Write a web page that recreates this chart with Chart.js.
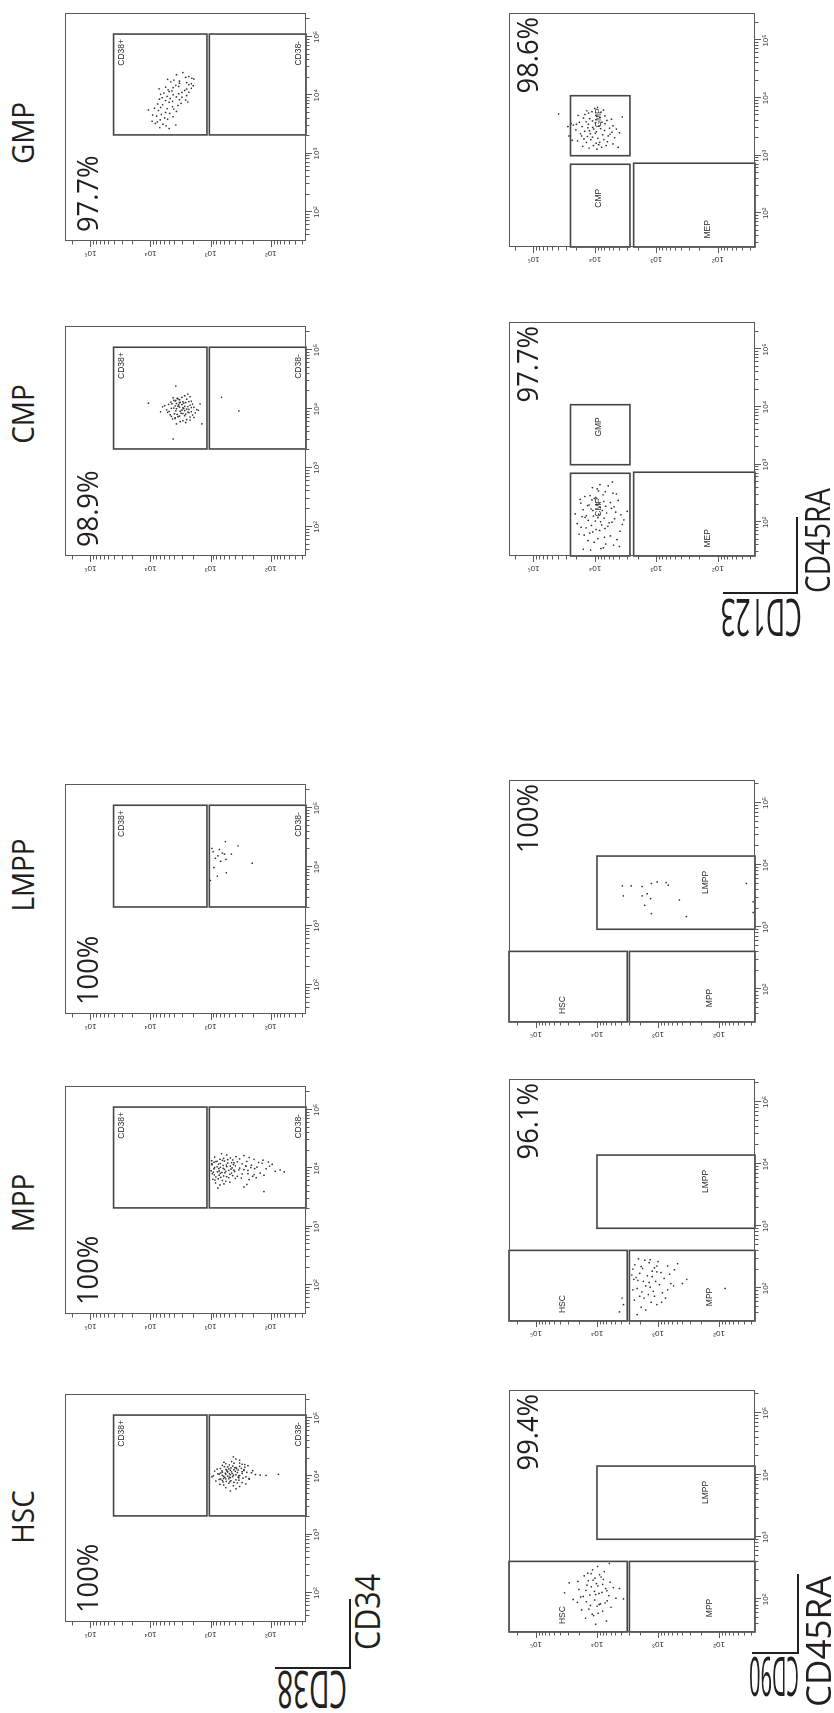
<!DOCTYPE html>
<html>
<head>
<meta charset="utf-8">
<script src="https://cdn.jsdelivr.net/npm/chart.js@4/dist/chart.umd.min.js"></script>
<style>
  html, body { margin: 0; padding: 0; background: #fff; width: 834px; height: 1713px; overflow: hidden; }
  /* The figure is laid out landscape and turned a quarter turn to fit the portrait page */
  #fig { position: absolute; left: 0; top: 0; width: 1713px; height: 834px;
         transform-origin: 0 0; transform: translateY(1713px) rotate(-90deg); background: #fff; }
  #fig canvas { position: absolute; }
  .txt { position: absolute; white-space: nowrap; font-family: "Open Sans", sans-serif;
         color: #231f20; line-height: 1; transform-origin: 0 0; }
  .bar { position: absolute; background: #231f20; }
</style>
</head>
<body>
<div id="fig"></div>
<script>
// ---------------- data ----------------
const populations = ['HSC', 'MPP', 'LMPP', 'CMP', 'GMP'];
const cd38Percents = ['100%', '100%', '100%', '98.9%', '97.7%'];
const subsetPercents = ['99.4%', '96.1%', '100%', '97.7%', '98.6%'];

const tickValues = [100, 1000, 10000, 100000];
const tickLabels = ['10²', '10³', '10⁴', '10⁵'];

// axis limits (CD34 / CD38 row, CD45RA / CD90 panels, CD45RA / CD123 panels)
const cd34Range = [32, 257000];
const cd38Range = [26, 263000];
const cd45raRangeA = [30, 234000];
const cd90Range = [26, 275000];
const cd45raRangeB = [26, 300000];
const cd123Range = [25, 250000];

// gates: [CD34 low, CD34 high], [CD38 low, CD38 high]
const cd38Gates = [
  { name: 'CD38+', x: [2100, 112000], y: [1150, 41000] },
  { name: 'CD38-', x: [2100, 112000], y: [26, 1050] }
];
// gates: [CD45RA low, high], [CD90 low, high]
const cd90Gates = [
  { name: 'HSC', x: [30, 410], y: [3200, 275000] },
  { name: 'MPP', x: [30, 410], y: [26, 2950] },
  { name: 'LMPP', x: [930, 14000], y: [26, 10000] }
];
// gates: [CD45RA low, high], [CD123 low, high]
const cd123Gates = [
  { name: 'GMP', x: [1000, 11000], y: [2700, 25000] },
  { name: 'CMP', x: [26, 710], y: [2700, 25000] },
  { name: 'MEP', x: [26, 740], y: [25, 2350] }
];

// events: [CD34, CD38]
const hscCd38 = [
[10500,420],[9200,610],[12800,350],[8100,480],[14500,520],[11200,300],[7300,700],[16800,410],[9800,260],[13300,780],
[10200,900],[6400,560],[18900,330],[11800,640],[8700,380],[15200,240],[9500,470],[12100,530],[7800,300],[13900,460],
[10900,720],[6900,420],[17400,600],[11500,210],[8300,820],[14100,380],[9000,560],[12600,280],[10400,640],[7600,500],
[16100,300],[11900,450],[8900,230],[13600,690],[9700,350],[12300,860],[10700,180],[6100,380],[15700,490],[11300,570],
[8500,640],[14800,330],[9300,290],[12900,410],[10100,520],[7100,610],[17900,450],[11600,360],[8800,720],[13100,560],
[9900,430],[12500,200],[10300,330],[7900,410],[15400,640],[11100,490],[8600,340],[14300,270],[9600,580],[12700,470],
[10600,380],[7400,260],[16400,560],[11400,680],[9100,500],[13700,310],[10000,610],[12200,390],[8200,550],[15000,430],
[11700,250],[9400,340],[13400,500],[10800,560],[5600,470],[19800,380],[12000,300],[8400,460],[14600,590],[9200,230],
[12400,650],[10500,150],[7700,360],[16900,330],[11000,760],[13000,280],[9700,490],[21500,420],[8000,620],[14000,400],
[10200,340],[12800,540],[6700,330],[15900,270],[11200,440],[9000,680],[13500,370],[10600,470],[11900,520],[10400,120],
[9800,950],[10800,75]
];
const mppCd38 = [
[9800,880],[7600,720],[11500,950],[6200,640],[13200,780],[8900,560],[10400,690],[5600,830],[14800,610],[8100,940],
[12300,520],[9300,410],[6900,500],[15600,860],[10900,470],[7300,360],[11800,740],[8500,650],[13900,430],[6500,920],
[9600,590],[12700,880],[7900,480],[10100,330],[5200,700],[16900,540],[8700,770],[11200,620],[6700,390],[14300,700],
[9100,980],[10700,540],[7100,820],[12900,360],[8300,450],[15100,470],[9900,730],[6000,560],[11600,420],[13500,960],
[8000,300],[10300,860],[7400,610],[12100,690],[9400,340],[5800,480],[14100,520],[10600,780],[8800,400],[11900,300],
[6600,750],[13700,640],[9200,500],[7700,870],[12500,450],[10000,620],[5400,600],[15900,380],[8200,690],[11000,390],
[6800,310],[13000,820],[9700,460],[7200,540],[12000,950],[8400,580],[10800,260],[6300,850],[14500,330],[9000,720],
[11400,550],[7500,430],[13300,590],[8600,900],[10200,440],[4600,760],[17800,660],[9500,280],[12400,410],[7000,680],
[9200,240],[11300,210],[7800,190],[13100,250],[10500,170],[8300,150],[12200,140],[6400,230],[9800,120],[14200,190],
[10900,105],[7600,130],[11700,95],[8900,85],[12600,160],[6900,175],[10300,215],[13800,135],[9400,70],[11000,260],
[8100,240],[15300,230],[7300,200],[12800,110],[4800,280],[16500,280],[9900,185],[5300,250],[8700,60],[4000,130]
];
const lmppCd38 = [
[20700,955],[18200,912],[19900,716],[14100,832],[15500,759],[16600,589],[16600,452],[13500,556],[22900,351],
[26900,569],[9800,881],[8000,550],[7000,776],[5900,1010],[11600,204],[12500,680],[17300,640]
];
const cmpCd38 = [
[9600,3000],[8200,2600],[11800,3400],[7100,3900],[13400,2300],[10300,4500],[6300,2900],[15200,3600],[9000,2100],[12600,2800],
[8800,5200],[11000,2400],[7600,3300],[14100,4100],[10700,1900],[5600,3700],[16800,2700],[9300,3800],[12100,2000],[8000,4700],
[10000,2500],[13000,3200],[7300,2200],[11400,5800],[9800,1700],[6800,4300],[14700,2500],[8500,3100],[12400,3700],[10500,2900],
[7900,2000],[15800,3000],[9100,4900],[11200,3500],[6600,2500],[13700,3900],[8700,2300],[10900,6300],[12900,2600],[7400,3500],
[9500,1600],[14400,3300],[8300,4000],[11600,2200],[10100,3700],[6100,3200],[17900,2400],[9400,2700],[12300,4400],[7700,2700],
[10600,2100],[13300,2900],[8100,3600],[11900,3000],[9700,5400],[5900,2600],[15500,4200],[8900,2400],[12800,3300],[10400,4100],
[7200,1900],[14000,3800],[9200,3200],[11100,2700],[6900,3900],[13600,2100],[8400,2900],[10800,3300],[12000,5000],[7500,4500],
[16200,2200],[9900,2300],[11300,3900],[8600,1800],[13100,4600],[10200,2800],[6500,2200],[14900,3500],[9000,6800],[12200,1500],
[12600,10800],[3100,4200],[24500,3800],[5600,1400],[15800,660],[9300,340]
];
const gmpCd38 = [
[21000,2300],[24500,2900],[19000,1900],[17500,3300],[22500,3700],[15800,2100],[18200,4100],[20300,2600],[16500,2500],[14200,3400],
[19600,2050],[13500,4200],[15200,2300],[17000,4600],[12800,2500],[14800,3800],[11900,4400],[13200,2100],[16100,3300],[11200,3000],
[12400,5100],[10600,3400],[13800,5600],[9900,2500],[11600,4900],[10200,4200],[9300,3000],[12100,2700],[8800,4700],[10900,6000],
[9600,5300],[8400,3300],[11300,2300],[7900,4300],[9100,6400],[8100,5600],[7300,3100],[8600,7100],[7600,4900],[6900,6300],
[9400,3700],[6400,4300],[7100,7600],[6700,3500],[5900,5300],[6200,6800],[8300,2600],[5500,7400],[5800,4100],[5100,5600],
[6000,8600],[4700,6600],[5300,3700],[4400,7900],[4900,4800],[4100,5800],[4600,9200],[3800,6900],[4300,4200],[3500,7700],
[3900,5200],[3200,6200],[3600,9400],[3000,5500],[3300,8300],[2800,7000],[2700,4900],[5600,10800],[14600,1950],[10400,6800],
[18800,5200],[7700,2400],[12900,7200],[3100,3800]
];

// events: [CD45RA, CD90]
const hscCd90 = [
[120,10500],[85,8800],[160,12400],[60,9600],[210,7900],[140,15200],[95,6800],[180,10200],[70,13600],[250,9100],
[110,18500],[150,7200],[55,11400],[300,11800],[130,8300],[90,21000],[200,13900],[75,5900],[165,9700],[115,6400],
[240,16200],[65,8100],[135,11000],[100,24500],[190,6100],[80,12800],[280,7600],[145,19800],[50,15400],[220,10800],
[105,4900],[170,14600],[88,7400],[125,9300],[260,12500],[68,17800],[155,5400],[98,10900],[230,8600],[45,7000],
[185,28500],[118,13100],[78,10000],[340,9800],[138,6900],[92,14900],[205,11600],[58,12000],[175,8100],[112,16800],
[150,4300],[83,9200],[265,14200],[128,34000],[40,10500],[195,20500],[380,6300],[102,3700]
];
const mppCd90 = [
[150,2300],[210,1800],[95,2600],[260,1400],[130,1100],[75,2000],[180,900],[110,1600],[300,2100],[60,1300],
[230,700],[140,2500],[85,850],[190,1250],[50,1900],[120,620],[270,1000],[100,2200],[160,1500],[70,760],
[240,2400],[90,1200],[200,540],[130,1750],[55,1050],[175,2000],[115,950],[285,1650],[80,1450],[145,800],
[215,1150],[65,2450],[105,1350],[250,480],[135,2150],[45,1600],[185,1050],[95,700],[165,2700],[75,1150],
[225,1900],[125,1400],[60,880],[205,2600],[110,560],[155,1250],[38,2200],[290,1350],[88,1850],[170,650],
[120,400],[230,1050],[70,1700],[140,340],[55,3700],[70,3900],[42,4300],[100,80]
];
const lmppCd90 = [
[4640,3850],[4640,2760],[4530,1830],[5070,1290],[5370,1036],[5250,740],[4760,685],[3200,3720],[3200,1830],
[3470,1510],[2890,1330],[2260,1660],[1660,1290],[2750,450],[1490,345],[5070,36],[2570,28],[1730,28]
];

// events: [CD45RA, CD123]
const cmpCd123 = [
[120,9000],[85,6200],[200,12500],[60,15000],[300,7400],[150,4600],[45,10300],[250,17500],[100,5300],[180,8200],
[70,3900],[400,11000],[130,13800],[55,7000],[220,5600],[95,19500],[160,10800],[40,5000],[350,8800],[110,3400],
[280,14600],[75,9600],[190,6700],[140,21000],[65,12200],[240,4200],[90,7800],[430,6100],[125,16200],[50,4400],
[170,11600],[105,9900],[320,5100],[80,14000],[210,8600],[35,8000],[145,6500],[260,10200],[62,18200],[115,4800],
[195,13200],[88,11400],[380,9200],[135,3800],[48,13000],[230,7200],[98,5900],[165,15600],[72,8400],[290,12000],
[118,7100],[58,5600],[205,9400],[155,3000],[82,16800],[340,6800],[128,10600],[42,6700],[270,9700],[108,12900],
[185,4900],[68,10900],[450,8300],[138,8700],[92,3600],[215,17000],[52,9000],[175,5400],[122,14500],[310,4500],
[78,6900],[245,11200],[102,8100],[33,11800],[160,7600],[500,5200],[38,4000],[34,15500],[36,7300]
];
const gmpCd123 = [
[2600,9500],[1900,7200],[3500,12800],[1500,10600],[4600,8300],[2200,16500],[3000,5800],[1700,13800],[5800,11200],[2800,20500],
[1400,7800],[4100,6400],[2400,11900],[3800,17900],[1600,5100],[5200,14600],[2000,9000],[3300,8600],[6600,10100],[1800,19200],
[2900,4500],[4400,12200],[1350,12500],[3600,6900],[2300,7500],[5000,18800],[1950,15100],[3100,10900],[2500,4000],[4800,9400],
[1550,8700],[3900,14000],[2700,12300],[6200,7300],[1750,6300],[3400,22500],[2100,11000],[4300,5400],[1450,15800],[2950,8100],
[5500,12700],[2350,5700],[3700,9900],[1850,23500],[4900,6900],[2650,14700],[1650,9600],[3200,16200],[2050,4800],[6900,9100],
[2450,9900],[4000,11000],[1500,6600],[3050,13100],[5700,8000],[2200,6100],[3500,20000],[1300,9300],[4500,15400],[2750,7000],
[1900,11700],[3800,7700],[2400,17200],[6000,13600],[1700,8400],[3300,5100],[2900,10500],[4700,3600],[2150,13300],[1400,4200],
[3600,24500],[2550,5300],[5300,39000],[3200,27500],[2200,26500]
];

// ---------------- layout (landscape coordinates) ----------------
// plot boxes: [left, top, width, height]
const boxesTop = [[91,65,228,241],[399,65,228,241],[699,65,230,241],[1157,65,230,241],[1472,65,228,241]];
const boxesBottom = [[81,509,242,246],[392,509,242,246],[691,509,242,246],[1157,509,234,246],[1466,509,234,246]];
const titleCentres = [196, 510, 838, 1299, 1580];

// where each gate writes its name
const cd38LabelPlace = [{ mode: 'tr', dx: -5, dy: 4 }, { mode: 'br', dx: -7, dy: -3 }];
const cd90LabelPlace = [{ mode: 'f', fx: 0.24, fy: 0.45 }, { mode: 'f', fx: 0.34, fy: 0.64 }, { mode: 'f', fx: 0.64, fy: 0.69 }];
const cd123LabelPlace = [{ mode: 'f', fx: 0.63, fy: 0.48 }, { mode: 'f', fx: 0.59, fy: 0.47 }, { mode: 'f', fx: 0.21, fy: 0.61 }];

const PAD = { left: 32, right: 6, top: 4, bottom: 22 };
const fig = document.getElementById('fig');

// ---------------- drawing helpers ----------------
const flowPlugin = {
  id: 'flowPanel',
  afterDatasetsDraw(chart, args, o) {
    const { ctx, chartArea: a, scales: { x, y } } = chart;
    ctx.save();
    // gates
    ctx.strokeStyle = '#454545';
    ctx.lineWidth = 1.6;
    ctx.font = '8.5px "Liberation Sans", Arial, sans-serif';
    ctx.fillStyle = '#2a2a2a';
    o.gates.forEach((g, i) => {
      const l = x.getPixelForValue(g.x[0]), r = x.getPixelForValue(g.x[1]);
      const t = y.getPixelForValue(g.y[1]), b = y.getPixelForValue(g.y[0]);
      const L = Math.max(l, a.left), R = Math.min(r, a.right);
      const T = Math.max(t, a.top), B = Math.min(b, a.bottom);
      ctx.strokeRect(L, T, R - L, B - T);
      const p = o.labelPlace[i];
      if (p.mode === 'tr') {
        ctx.textAlign = 'right'; ctx.textBaseline = 'top';
        ctx.fillText(g.name, R + p.dx, T + p.dy);
      } else if (p.mode === 'br') {
        ctx.textAlign = 'right'; ctx.textBaseline = 'bottom';
        ctx.fillText(g.name, R + p.dx, B + p.dy);
      } else {
        ctx.textAlign = 'center'; ctx.textBaseline = 'middle';
        ctx.fillText(g.name, L + (R - L) * p.fx, T + (B - T) * p.fy);
      }
    });
    ctx.restore();
  },
  afterDraw(chart, args, o) {
    const { ctx, chartArea: a, scales: { x, y } } = chart;
    ctx.save();
    // frame
    ctx.strokeStyle = '#5a5a5a';
    ctx.lineWidth = 1;
    ctx.strokeRect(a.left + 0.5, a.top + 0.5, a.width - 1, a.height - 1);
    // log ticks
    ctx.beginPath();
    for (let d = 1; d <= 5; d++) {
      for (let k = 1; k <= 9; k++) {
        const v = k * Math.pow(10, d);
        const len = k === 1 ? 6 : 3.5;
        if (v > x.min && v < x.max) {
          const px = Math.round(x.getPixelForValue(v)) + 0.5;
          ctx.moveTo(px, a.bottom); ctx.lineTo(px, a.bottom + len);
        }
        if (v > y.min && v < y.max) {
          const py = Math.round(y.getPixelForValue(v)) + 0.5;
          ctx.moveTo(a.left, py); ctx.lineTo(a.left - len, py);
        }
      }
    }
    ctx.stroke();
    // tick labels
    ctx.fillStyle = '#333';
    ctx.font = '8px "Liberation Sans", Arial, sans-serif';
    tickValues.forEach((v, i) => {
      const px = x.getPixelForValue(v);
      ctx.textAlign = 'center'; ctx.textBaseline = 'top';
      ctx.fillText(tickLabels[i], px, a.bottom + 7);
      const py = y.getPixelForValue(v);
      ctx.save();
      ctx.translate(a.left - 10, py);
      ctx.rotate(-Math.PI / 2);
      ctx.textAlign = 'center'; ctx.textBaseline = 'alphabetic';
      ctx.fillText(tickLabels[i], 0, 0);
      ctx.restore();
    });
    // percentage in the parent gate
    ctx.fillStyle = '#231f20';
    ctx.font = '29px "Open Sans", sans-serif';
    ctx.textBaseline = 'alphabetic';
    if (o.pctSide === 'left') {
      ctx.translate(a.left + 9, a.top + 33);
      ctx.scale(0.94, 1);
      ctx.textAlign = 'left';
    } else {
      ctx.translate(a.right - 4, a.top + 29);
      ctx.scale(0.94, 1);
      ctx.textAlign = 'right';
    }
    ctx.fillText(o.pct, 0, 0);
    ctx.restore();
  }
};

function makePanel(box, events, xr, yr, gates, labelPlace, pct, pctSide) {
  const [u, v, w, h] = box;
  const cv = document.createElement('canvas');
  const cw = w + PAD.left + PAD.right, ch = h + PAD.top + PAD.bottom;
  cv.width = cw; cv.height = ch;
  cv.style.left = (u - PAD.left) + 'px';
  cv.style.top = (v - PAD.top) + 'px';
  cv.style.width = cw + 'px';
  cv.style.height = ch + 'px';
  fig.appendChild(cv);
  new Chart(cv, {
    type: 'scatter',
    data: {
      datasets: [{
        data: events.map(([ex, ey]) => ({ x: ex, y: ey })),
        pointRadius: 0.85,
        pointHoverRadius: 0,
        backgroundColor: '#333333',
        borderWidth: 0
      }]
    },
    options: {
      responsive: false,
      maintainAspectRatio: false,
      animation: false,
      events: [],
      devicePixelRatio: 1,
      layout: { padding: PAD },
      scales: {
        x: { type: 'logarithmic', min: xr[0], max: xr[1], display: false },
        y: { type: 'logarithmic', min: yr[0], max: yr[1], display: false }
      },
      plugins: {
        legend: { display: false },
        tooltip: { enabled: false },
        flowPanel: { gates, labelPlace, pct, pctSide }
      }
    },
    plugins: [flowPlugin]
  });
}

// horizontal text, left edge (or centre) at u, baseline at the given height
function addText(str, u, baseline, size, align, squeeze) {
  const d = document.createElement('div');
  d.className = 'txt';
  d.textContent = str;
  d.style.fontSize = size + 'px';
  d.style.top = (baseline - 0.888 * size) + 'px';
  d.style.left = u + 'px';
  const s = squeeze || 1;
  d.style.transform = (align === 'center' ? 'scaleX(' + s + ') translateX(-50%)' : 'scaleX(' + s + ')');
  fig.appendChild(d);
}
// text read upwards, baseline on the line u, centred on v
function addUpText(str, u, vCentre, size, squeeze) {
  const d = document.createElement('div');
  d.className = 'txt';
  d.textContent = str;
  d.style.fontSize = size + 'px';
  d.style.left = u + 'px';
  d.style.top = vCentre + 'px';
  d.style.transform = 'rotate(-90deg) scaleX(' + (squeeze || 1) + ') translate(-50%, -' + (0.888 * size) + 'px)';
  fig.appendChild(d);
}
function addBar(u, v, w, h) {
  const d = document.createElement('div');
  d.className = 'bar';
  d.style.left = u + 'px'; d.style.top = v + 'px';
  d.style.width = w + 'px'; d.style.height = h + 'px';
  fig.appendChild(d);
}

// ---------------- build ----------------
const cd38Events = [hscCd38, mppCd38, lmppCd38, cmpCd38, gmpCd38];
populations.forEach((name, i) => {
  makePanel(boxesTop[i], cd38Events[i], cd34Range, cd38Range, cd38Gates, cd38LabelPlace, cd38Percents[i], 'left');
  addText(name, titleCentres[i], 35, 31, 'center', 0.9);
});
makePanel(boxesBottom[0], hscCd90, cd45raRangeA, cd90Range, cd90Gates, cd90LabelPlace, subsetPercents[0], 'right');
makePanel(boxesBottom[1], mppCd90, cd45raRangeA, cd90Range, cd90Gates, cd90LabelPlace, subsetPercents[1], 'right');
makePanel(boxesBottom[2], lmppCd90, cd45raRangeA, cd90Range, cd90Gates, cd90LabelPlace, subsetPercents[2], 'right');
makePanel(boxesBottom[3], cmpCd123, cd45raRangeB, cd123Range, cd123Gates, cd123LabelPlace, subsetPercents[3], 'right');
makePanel(boxesBottom[4], gmpCd123, cd45raRangeB, cd123Range, cd123Gates, cd123LabelPlace, subsetPercents[4], 'right');

// axis keys
addBar(44, 275, 2, 76); addBar(44, 349, 70, 2);
addUpText('CD38', 42, 312, 52, 0.54);
addText('CD34', 63, 380, 35, 'left', 0.87);

addBar(59, 752, 2, 47); addBar(59, 797, 80, 2);
addUpText('CD90', 56, 774, 54, 0.37);
addText('CD45RA', 6, 831, 35, 'left', 1);

addBar(1119, 723, 2, 75); addBar(1119, 796, 77, 2);
addUpText('CD123', 1114, 761, 52, 0.51);
addText('CD45RA', 1120, 830, 35, 'left', 0.8);
</script>
</body>
</html>
